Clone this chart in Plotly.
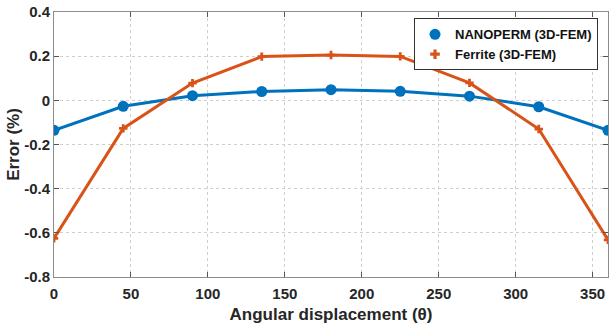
import plotly.graph_objects as go

# Angular positions (degrees) and simulated error for each core material
angle = [0, 45, 90, 135, 180, 225, 270, 315, 360]
nanoperm_err = [-0.136, -0.027, 0.021, 0.040, 0.048, 0.041, 0.019, -0.029, -0.136]
ferrite_err = [-0.625, -0.127, 0.078, 0.198, 0.205, 0.199, 0.079, -0.130, -0.632]

x_ticks = [0, 50, 100, 150, 200, 250, 300, 350]
y_ticks = [-0.8, -0.6, -0.4, -0.2, 0, 0.2, 0.4]
y_labels = ["-0.8", "-0.6", "-0.4", "-0.2", "0", "0.2", "0.4"]

BLUE = "#0072BD"
ORANGE = "#D95319"
FONT = "Liberation Sans, Arial, sans-serif"
TEXT = "#262626"

fig = go.Figure()

fig.add_trace(go.Scatter(
    x=angle, y=nanoperm_err, mode="lines+markers",
    name="NANOPERM (3D-FEM)",
    line=dict(color=BLUE, width=3),
    marker=dict(symbol="circle", size=11, color=BLUE),
    showlegend=False,
))
fig.add_trace(go.Scatter(
    x=angle, y=ferrite_err, mode="lines+markers",
    name="Ferrite (3D-FEM)",
    line=dict(color=ORANGE, width=3),
    marker=dict(symbol="cross", size=7, color=ORANGE),
    showlegend=False,
))

# legend entries show only the marker glyph
fig.add_trace(go.Scatter(
    x=[None], y=[None], mode="markers", name="NANOPERM (3D-FEM)",
    marker=dict(symbol="circle", size=11, color=BLUE),
))
fig.add_trace(go.Scatter(
    x=[None], y=[None], mode="markers", name="Ferrite (3D-FEM)",
    marker=dict(symbol="cross", size=8, color=ORANGE),
))

axis_common = dict(
    showline=True, linecolor="#8c8c8c", linewidth=1, mirror="ticks",
    ticks="inside", ticklen=5, tickcolor="#555555",
    showgrid=True, gridcolor="#cfcfcf", griddash="dot", gridwidth=1,
    zeroline=False,
    tickfont=dict(family=FONT, size=15, color=TEXT, weight="bold"),
)

fig.update_xaxes(
    range=[0, 360], tickvals=x_ticks, ticklabelstandoff=3,
    title=dict(text="<b>Angular displacement (θ)</b>",
               font=dict(family=FONT, size=17, color=TEXT), standoff=8),
    **axis_common,
)
fig.update_yaxes(
    range=[-0.8, 0.4], tickvals=y_ticks, ticktext=y_labels,
    title=dict(text="<b>Error (%)</b>",
               font=dict(family=FONT, size=17, color=TEXT), standoff=0),
    **axis_common,
)

fig.update_layout(
    width=610, height=324,
    margin=dict(l=54, r=2, t=12, b=47),
    plot_bgcolor="white", paper_bgcolor="white",
    font=dict(family=FONT),
    legend=dict(
        x=0.982, y=0.976, xanchor="right", yanchor="top",
        bgcolor="white", bordercolor="#333333", borderwidth=1,
        font=dict(family=FONT, size=13, color="#111111", weight="bold"),
        itemwidth=30, tracegroupgap=0,
    ),
)

fig.write_html("out.html")
